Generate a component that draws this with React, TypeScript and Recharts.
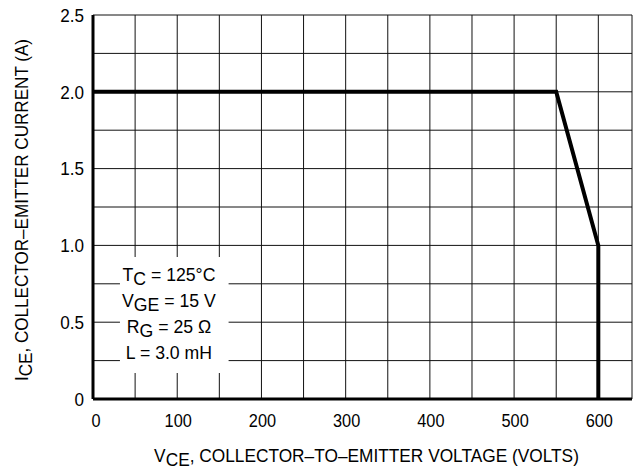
import { LineChart, Line, XAxis, YAxis, CartesianGrid, ReferenceArea } from 'recharts'

// SOA curve
const vce = [0, 550, 600, 600]
const ice = [2.0, 2.0, 1.0, 0]

const xTicks = [0, 50, 100, 150, 200, 250, 300, 350, 400, 450, 500, 550, 600]
const yTicks = [0, 0.25, 0.5, 0.75, 1.0, 1.25, 1.5, 1.75, 2.0, 2.25, 2.5]

// conditions box (data units)
const boxX = [32, 161]
const boxY = [0.17, 0.925]

const data = vce.map((v, i) => ({ vce: v, ice: ice[i] }))

// no narrow font installed, so squeeze Liberation Sans horizontally
const FONT = '"Liberation Sans", Arial, sans-serif'
const FS = 19

function Sub({ main, sub, rest }: { main: string; sub: string; rest: string }) {
  return (
    <>
      <tspan>{main}</tspan>
      <tspan dy={4}>{sub}</tspan>
      <tspan dy={-4}>{rest}</tspan>
    </>
  )
}

function Narrow({ x, y, sx, rotate, anchor = 'middle', dy, children }: any) {
  const rot = rotate ? ` rotate(${rotate})` : ''
  return (
    <g transform={`translate(${x}, ${y})${rot} scale(${sx}, 1)`}>
      <text x={0} y={0} dy={dy} textAnchor={anchor} fontFamily={FONT} fontSize={FS} fill="#000">
        {children}
      </text>
    </g>
  )
}

function XTick(props: any) {
  const v = props.payload.value
  if (v % 100 !== 0) return null
  return <Narrow x={props.x + (v === 0 ? 3 : 1)} y={props.y} sx={0.86} dy="0.71em">{String(v)}</Narrow>
}

function YTick(props: any) {
  const v = props.payload.value
  if (v % 0.5 !== 0) return null
  return (
    <Narrow x={props.x} y={props.y} sx={0.9} anchor="end" dy="0.355em">
      {v === 0 ? '0' : v.toFixed(1)}
    </Narrow>
  )
}

function ConditionsLabel(props: any) {
  const vb = props.viewBox || {}
  const cx = vb.x + 49
  const top = vb.y
  const lines = [
    <Sub main="T" sub="C" rest=" = 125°C" />,
    <Sub main="V" sub="GE" rest=" = 15 V" />,
    <Sub main="R" sub="G" rest=" = 25 Ω" />,
    <tspan> L = 3.0 mH</tspan>,
  ]
  return (
    <g>
      {lines.map((l, i) => (
        <Narrow key={i} x={cx} y={top + 24 + i * 26} sx={0.93}>{l}</Narrow>
      ))}
    </g>
  )
}

function XTitle(props: any) {
  const vb = props.viewBox || {}
  return (
    <Narrow x={vb.x + vb.width / 2 + 4} y={462} sx={0.91}>
      <Sub main="V" sub="CE" rest=", COLLECTOR–TO–EMITTER VOLTAGE (VOLTS)" />
    </Narrow>
  )
}

function YTitle(props: any) {
  const vb = props.viewBox || {}
  return (
    <Narrow x={28} y={vb.y + vb.height / 2 + 3} sx={0.9} rotate={-90}>
      <Sub main="I" sub="CE" rest=", COLLECTOR–EMITTER CURRENT (A)" />
    </Narrow>
  )
}

export default function App() {
  return (
    <div style={{ position: 'absolute', left: 0, top: 0, background: '#fff' }}>
      <LineChart width={633} height={469} data={data}
        margin={{ top: 15, right: 1, bottom: 0, left: 0 }}>
        <CartesianGrid stroke="#111" strokeWidth={1} />
        <XAxis
          dataKey="vce" type="number" domain={[0, 640]} ticks={xTicks} interval={0}
          allowDataOverflow height={70}
          tick={<XTick />}
          tickLine={false} tickSize={0} tickMargin={14}
          axisLine={{ stroke: '#000', strokeWidth: 3 }}
          label={<XTitle />}
        />
        <YAxis
          type="number" domain={[0, 2.5]} ticks={yTicks} interval={0}
          allowDataOverflow width={93}
          tick={<YTick />}
          tickLine={false} tickSize={0} tickMargin={9}
          axisLine={{ stroke: '#000', strokeWidth: 3 }}
          label={<YTitle />}
        />
        <ReferenceArea x1={boxX[0]} x2={boxX[1]} y1={boxY[0]} y2={boxY[1]}
          fill="#fff" fillOpacity={1} stroke="none" ifOverflow="visible"
          label={<ConditionsLabel />} />
        <Line type="linear" dataKey="ice" stroke="#000" strokeWidth={4}
          dot={false} isAnimationActive={false} />
      </LineChart>
    </div>
  )
}
